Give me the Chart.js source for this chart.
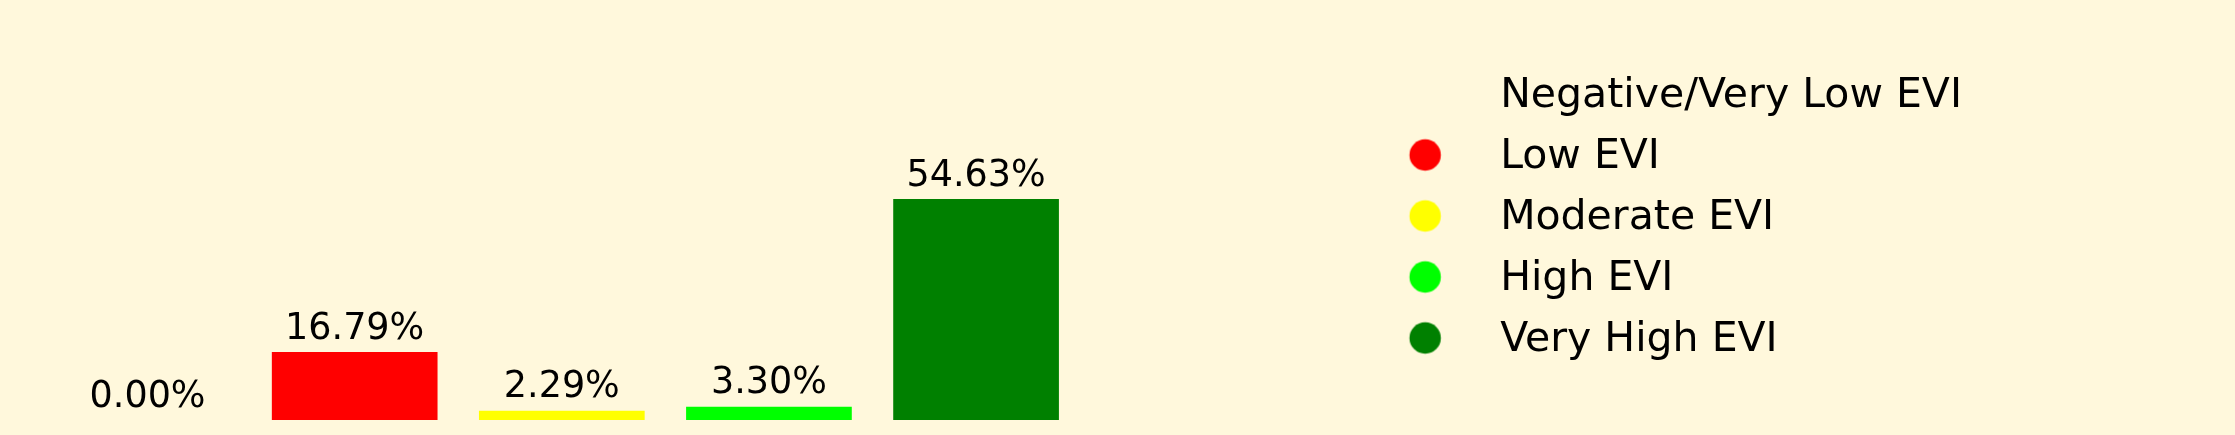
<!DOCTYPE html>
<html>
<head>
<meta charset="utf-8">
<script src="https://cdn.jsdelivr.net/npm/chart.js@4/dist/chart.umd.min.js"></script>
<style>
  html, body { margin: 0; padding: 0; background: #fff8dc; }
  #wrap { width: 2235px; height: 435px; position: relative; background: #fff8dc; }
</style>
</head>
<body>
<div id="wrap"><canvas id="c"></canvas></div>
<script>
const categories = ['Negative/Very Low EVI', 'Low EVI', 'Moderate EVI', 'High EVI', 'Very High EVI'];
const percentages = [0.00, 16.79, 2.29, 3.30, 54.63];
const barColors = ['rgba(0,0,0,0)', '#ff0000', '#ffff00', '#00ff00', '#008000'];

const FONT = "'DejaVu Sans', sans-serif";
const MARKER_BOX = 380;      // legend marker slot width
const MARKER_CX = 325.5;     // circle centre within slot

function circleImage(color) {
  const c = document.createElement('canvas');
  c.width = MARKER_BOX; c.height = 40;
  const g = c.getContext('2d');
  g.fillStyle = color;
  g.beginPath();
  g.arc(MARKER_CX, 17.5, 15.7, 0, Math.PI * 2);
  g.fill();
  return c;
}

const valueLabels = {
  id: 'valueLabels',
  afterDatasetsDraw(chart) {
    const ctx = chart.ctx;
    const meta = chart.getDatasetMeta(0);
    ctx.save();
    ctx.font = '36.5px ' + FONT;
    ctx.fillStyle = '#000000';
    ctx.textAlign = 'center';
    ctx.textBaseline = 'alphabetic';
    meta.data.forEach((bar, i) => {
      const v = chart.data.datasets[0].data[i];
      ctx.fillText(v.toFixed(2) + '%', bar.x, bar.y - 13.5);
    });
    ctx.restore();
  }
};

new Chart(document.getElementById('c'), {
  type: 'bar',
  data: {
    labels: categories,
    datasets: [{
      data: percentages,
      backgroundColor: barColors,
      borderWidth: 0,
      barPercentage: 0.8,
      categoryPercentage: 1.0
    }]
  },
  options: {
    responsive: true,
    maintainAspectRatio: false,
    animation: false,
    layout: { padding: { left: 44, right: 263, top: 9, bottom: 7 } },
    scales: {
      x: {
        display: true,
        offset: true,
        grid: { display: false },
        border: { display: false },
        ticks: { display: false },
        afterFit(scale) { scale.height = 8; }
      },
      y: {
        min: 0,
        max: 101.6,
        display: false
      }
    },
    plugins: {
      tooltip: { enabled: false },
      legend: {
        display: true,
        position: 'right',
        align: 'center',
        labels: {
          usePointStyle: true,
          pointStyleWidth: MARKER_BOX,
          boxHeight: 41,
          padding: 20,
          color: '#000000',
          font: { family: FONT, size: 41 },
          generateLabels(chart) {
            return categories.map((name, i) => ({
              text: name,
              fillStyle: barColors[i],
              strokeStyle: barColors[i],
              lineWidth: 0,
              pointStyle: circleImage(barColors[i]),
              hidden: false,
              index: i,
              fontColor: '#000000'
            }));
          }
        }
      }
    }
  },
  plugins: [valueLabels]
});
</script>
</body>
</html>
